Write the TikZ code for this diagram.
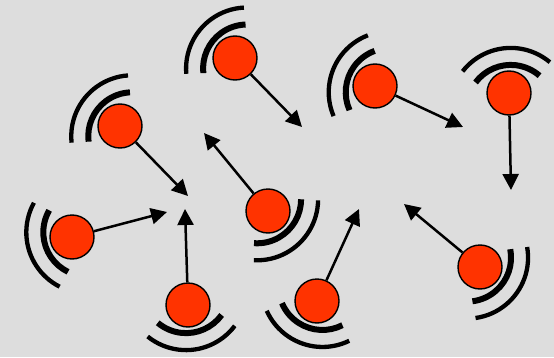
\documentclass[tikz,border=0pt]{standalone}
\usepackage{tikz}
\usetikzlibrary{arrows.meta}
\definecolor{moteRed}{RGB}{255,51,0}
\definecolor{backGray}{RGB}{221,221,221}
\tikzset{
	sensor/.style = {circle, draw = black, line width = 1.4pt, fill = moteRed, minimum size = 44pt, inner sep = 0pt},
	near wave/.style = {line width = 6pt},
	far wave/.style = {line width = 4.3pt},
	move/.style = {line width = 2.5pt, -{Triangle[length = 16pt, width = 16pt]}}
}
\newcommand{\Waves}[2]{
	\draw[near wave] (#1.center) ++(#2+180:16) ++(#2+47:44) arc[start angle = #2+47, end angle = #2-47, radius = 44];
	\draw[far wave] (#1.center) ++(#2+180:16) ++(#2+46:61) arc[start angle = #2+46, end angle = #2-46, radius = 61];
}
\begin{document}
\begin{tikzpicture}[x = 1pt, y = 1pt]
	      	\fill[backGray] (0, 0) rectangle (554, 357);
	      	\node[sensor] (S1) at (235, 299) {};
	      	\node[sensor] (S2) at (120, 231) {};
	      	\node[sensor] (S3) at (375, 271) {};
	      	\node[sensor] (S4) at (509, 264) {};
	      	\node[sensor] (S5) at (72, 120) {};
	      	\node[sensor] (S6) at (188, 52) {};
	      	\node[sensor] (S7) at (268, 146) {};
	      	\node[sensor] (S8) at (317, 56) {};
	      	\node[sensor] (S9) at (480, 90) {};
	      	\coordinate (T1) at (302, 230);
	      	\coordinate (T2) at (188, 161);
	      	\coordinate (T3) at (463, 230);
	      	\coordinate (T4) at (511, 167);
	      	\coordinate (T5) at (167, 145);
	      	\coordinate (T6) at (185, 148);
	      	\coordinate (T7) at (204, 224);
	      	\coordinate (T8) at (359, 148);
	      	\coordinate (T9) at (404, 153);
	      	\Waves{S1}{139}
	      	\Waves{S2}{140}
	      	\Waves{S3}{157}
	      	\Waves{S4}{96}
	      	\Waves{S5}{197}
	      	\Waves{S6}{277}
	      	\Waves{S7}{-47}
	      	\Waves{S8}{250}
	      	\Waves{S9}{-36}
	      	\draw[move] (S1) -- (T1);
	      	\draw[move] (S2) -- (T2);
	      	\draw[move] (S3) -- (T3);
	      	\draw[move] (S4) -- (T4);
	      	\draw[move] (S5) -- (T5);
	      	\draw[move] (S6) -- (T6);
	      	\draw[move] (S7) -- (T7);
	      	\draw[move] (S8) -- (T8);
	      	\draw[move] (S9) -- (T9);
	      \end{tikzpicture}
\end{document}
